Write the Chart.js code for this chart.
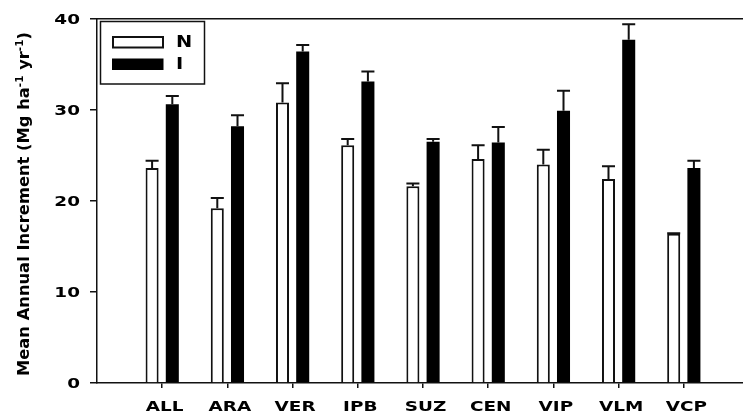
<!DOCTYPE html>
<html>
<head>
<meta charset="utf-8">
<script src="https://cdn.jsdelivr.net/npm/chart.js@4"></script>
<style>
  html, body { margin: 0; padding: 0; background: #fff; overflow: hidden; width: 743px; height: 415px; }
  canvas { display: block; }
</style>
</head>
<body>
<canvas id="c" width="760" height="415" style="width:760px;height:415px"></canvas>
<script>
// ---- data ----
const categories = ['ALL', 'ARA', 'VER', 'IPB', 'SUZ', 'CEN', 'VIP', 'VLM', 'VCP'];
const nValues = [23.6, 19.2, 30.8, 26.1, 21.6, 24.6, 24.0, 22.4, 16.4];
const nErrors = [0.8, 1.1, 2.1, 0.7, 0.3, 1.5, 1.6, 1.4, 0.05];
const iValues = [30.6, 28.2, 36.4, 33.1, 26.5, 26.4, 29.9, 37.7, 23.6];
const iErrors = [0.9, 1.2, 0.7, 1.1, 0.3, 1.7, 2.2, 1.7, 0.8];
const yTicks = [0, 10, 20, 30, 40];
const seriesNames = ['N', 'I'];
const yTitleParts = [
  ['Mean Annual Increment (Mg ha', false],
  ['-1', true],
  [' yr', false],
  ['-1', true],
  [')', false]
];

// padded category list so the axis spans one empty slot on each side
const labels = [''].concat(categories, ['']);
const pad = arr => [null].concat(arr, [null]);
const errs = [pad(nErrors), pad(iErrors)];

const FONT = '"DejaVu Sans", "Liberation Sans", Arial, sans-serif';
const INK = '#111';
const TEXT_STRETCH = 1.27;

// horizontally widened text (the reference uses a wide bold face)
const wideText = {
  id: 'wideText',
  afterInit(chart) {
    const ctx = chart.ctx;
    const orig = ctx.fillText.bind(ctx);
    ctx.__sx = 1;
    ctx.fillText = function (t, x, y, mw) {
      if (ctx.__sx === 1) return mw === undefined ? orig(t, x, y) : orig(t, x, y, mw);
      ctx.save();
      ctx.translate(x, y);
      ctx.scale(ctx.__sx, 1);
      orig(t, 0, 0);
      ctx.restore();
    };
  },
  beforeDraw(chart) { chart.ctx.__sx = TEXT_STRETCH; }
};

const errorBars = {
  id: 'errorBars',
  afterDatasetsDraw(chart) {
    const ctx = chart.ctx;
    const ys = chart.scales.y;
    ctx.save();
    ctx.strokeStyle = INK;
    ctx.lineWidth = 2;
    chart.data.datasets.forEach((ds, di) => {
      const meta = chart.getDatasetMeta(di);
      meta.data.forEach((bar, i) => {
        const v = ds.data[i];
        const e = errs[di][i];
        if (v == null || e == null) return;
        const yTop = ys.getPixelForValue(v + e);
        const yBar = ys.getPixelForValue(v);
        const half = bar.width / 2;
        ctx.beginPath();
        ctx.moveTo(bar.x, yBar);
        ctx.lineTo(bar.x, yTop);
        ctx.moveTo(bar.x - half, yTop);
        ctx.lineTo(bar.x + half, yTop);
        ctx.stroke();
      });
    });
    ctx.restore();
  }
};

const decor = {
  id: 'decor',
  afterDraw(chart) {
    const ctx = chart.ctx;
    const a = chart.chartArea;
    ctx.save();
    // frame top and right
    ctx.strokeStyle = INK;
    ctx.lineWidth = 1.5;
    ctx.beginPath();
    ctx.moveTo(a.left, a.top);
    ctx.lineTo(a.right, a.top);
    ctx.lineTo(a.right, a.bottom);
    ctx.stroke();

    // legend
    ctx.strokeRect(100.5, 21.5, 104, 62.5);
    ctx.fillStyle = '#fff';
    ctx.fillRect(113, 37, 50, 10.5);
    ctx.lineWidth = 2;
    ctx.strokeRect(113, 37, 50, 10.5);
    ctx.fillStyle = '#000';
    ctx.fillRect(112, 58.5, 51.5, 11.5);
    ctx.font = 'bold 15.5px ' + FONT;
    ctx.textBaseline = 'middle';
    ctx.textAlign = 'left';
    ctx.__sx = 1.25;
    ctx.fillText(seriesNames[0], 176, 43);
    ctx.fillText(seriesNames[1], 176, 65);

    // y title with superscripts (slightly widened along the text)
    ctx.__sx = 1;
    const big = 'bold 15.5px ' + FONT;
    const small = 'bold 10px ' + FONT;
    let total = 0;
    yTitleParts.forEach(([t, sup]) => { ctx.font = sup ? small : big; total += ctx.measureText(t).width; });
    ctx.translate(28.5, 204);
    ctx.rotate(-Math.PI / 2);
    ctx.scale(344 / total, 1);
    ctx.textBaseline = 'alphabetic';
    let x = -total / 2;
    yTitleParts.forEach(([t, sup]) => {
      ctx.font = sup ? small : big;
      ctx.fillText(t, x, sup ? -6 : 0);
      x += ctx.measureText(t).width;
    });
    ctx.restore();
    ctx.__sx = 1;
  }
};

new Chart(document.getElementById('c'), {
  type: 'bar',
  data: {
    labels: labels,
    datasets: [
      {
        label: seriesNames[0],
        data: pad(nValues),
        backgroundColor: '#fff',
        borderColor: INK,
        borderWidth: 2,
        borderSkipped: 'bottom',
        categoryPercentage: 0.62,
        barPercentage: 0.645
      },
      {
        label: seriesNames[1],
        data: pad(iValues),
        backgroundColor: '#000',
        borderColor: '#000',
        borderWidth: 0,
        categoryPercentage: 0.62,
        barPercentage: 0.645
      }
    ]
  },
  options: {
    responsive: false,
    animation: false,
    devicePixelRatio: 1,
    layout: { padding: { left: 0, top: 18, right: 11, bottom: 0 } },
    plugins: { legend: { display: false }, tooltip: { enabled: false }, title: { display: false } },
    scales: {
      x: {
        type: 'category',
        offset: false,
        afterFit: s => { s.height = 32; },
        grid: {
          offset: false,
          drawOnChartArea: false,
          drawTicks: true,
          tickLength: 5,
          lineWidth: 1.5,
          color: c => (c.index === 0 || c.index === labels.length - 1) ? 'rgba(0,0,0,0)' : INK
        },
        border: { display: true, color: INK, width: 1.5 },
        ticks: {
          autoSkip: false,
          maxRotation: 0,
          minRotation: 0,
          padding: 11,
          labelOffset: 2.5,
          color: '#000',
          font: { family: FONT, size: 14.5, weight: 'bold' }
        }
      },
      y: {
        min: 0,
        max: 40,
        afterFit: s => { s.width = 97; },
        afterBuildTicks: s => { s.ticks = yTicks.map(v => ({ value: v })); },
        grid: {
          drawOnChartArea: false,
          drawTicks: true,
          tickLength: 7,
          lineWidth: 1.5,
          color: INK
        },
        border: { display: true, color: INK, width: 1.5 },
        ticks: {
          padding: 10,
          labelOffset: 1.5,
          color: '#000',
          font: { family: FONT, size: 14.5, weight: 'bold' }
        }
      }
    }
  },
  plugins: [wideText, errorBars, decor]
});
</script>
</body>
</html>
